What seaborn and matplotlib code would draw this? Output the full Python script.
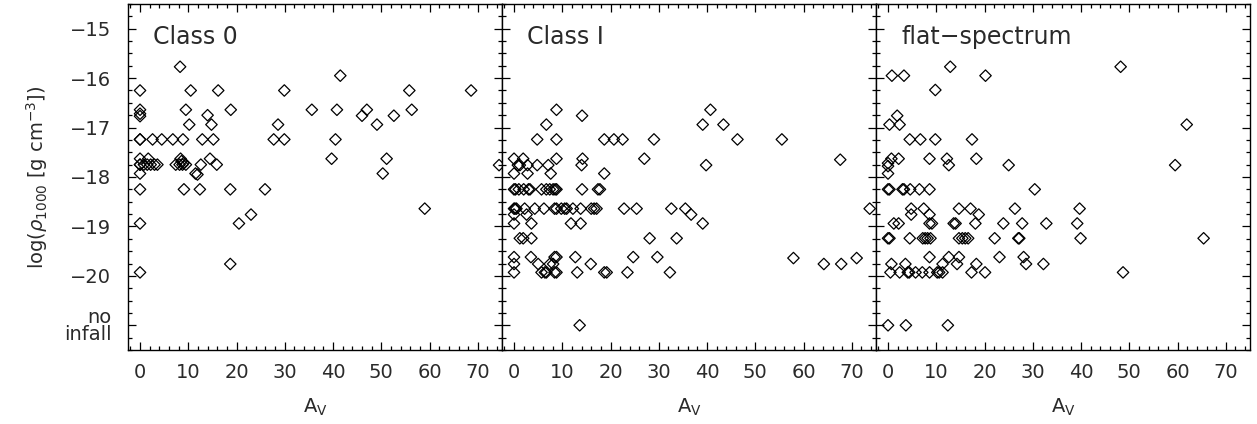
import matplotlib
matplotlib.use("Agg")
import matplotlib.pyplot as plt
from matplotlib.ticker import MultipleLocator
import pandas as pd
import seaborn as sns

# (A_V, log rho_1000) pairs; -21 stands for "no infall"
class0_points = [
    (8.3, -15.77), (41.5, -15.95),
    (0, -16.25), (10.5, -16.25), (16.2, -16.25), (29.9, -16.25), (55.8, -16.25), (68.6, -16.25),
    (0, -16.64), (0, -16.72), (0, -16.77), (9.5, -16.64), (18.8, -16.64), (35.6, -16.64),
    (40.8, -16.64), (47.0, -16.64), (56.3, -16.64),
    (14.0, -16.75), (46.0, -16.76), (52.6, -16.76),
    (10.2, -16.94), (14.8, -16.94), (28.6, -16.94), (49.1, -16.94),
    (0, -17.24), (0, -17.24), (2.6, -17.24), (4.5, -17.24), (6.8, -17.24), (8.9, -17.24),
    (12.9, -17.24), (15.2, -17.24), (27.7, -17.24), (29.9, -17.24), (40.5, -17.24),
    (0, -17.63), (1.7, -17.63), (8.4, -17.63), (14.5, -17.63), (39.7, -17.63), (51.1, -17.63),
    (0, -17.75), (0, -17.75), (0.8, -17.75), (1.5, -17.75), (2.2, -17.75), (3.0, -17.75),
    (3.6, -17.75), (7.4, -17.75), (8.2, -17.75), (8.6, -17.68), (9.0, -17.72), (8.8, -17.75),
    (9.5, -17.75), (12.6, -17.75), (15.9, -17.75), (74.4, -17.76),
    (0, -17.93), (11.5, -17.93), (11.9, -17.95), (50.3, -17.93),
    (0, -18.25), (9.1, -18.25), (12.4, -18.25), (18.7, -18.25), (25.9, -18.25),
    (59.0, -18.64), (23.0, -18.76),
    (0, -18.94), (20.5, -18.94),
    (18.7, -19.76), (0, -19.93),
]

class1_points = [
    (8.8, -16.64), (40.7, -16.64), (14.1, -16.76),
    (6.7, -16.94), (39.1, -16.94), (43.4, -16.94),
    (4.8, -17.24), (8.8, -17.24), (18.7, -17.24), (20.7, -17.24), (22.5, -17.24),
    (29.0, -17.24), (46.3, -17.24), (55.5, -17.24),
    (0, -17.63), (1.9, -17.63), (8.8, -17.63), (14.2, -17.63), (27.0, -17.63), (67.6, -17.65),
    (0.8, -17.76), (1.2, -17.76), (2.8, -17.76), (4.8, -17.76), (7.1, -17.76), (14.0, -17.76),
    (39.8, -17.76),
    (0, -17.93), (2.8, -17.93), (7.6, -17.93), (18.7, -17.93),
    (0, -18.25), (0.3, -18.25), (1.0, -18.25), (2.0, -18.25), (3.0, -18.25), (3.3, -18.25),
    (5.7, -18.25), (6.7, -18.25), (7.4, -18.25), (8.1, -18.25), (8.5, -18.25), (8.8, -18.25),
    (14.1, -18.25), (17.4, -18.25), (17.8, -18.25),
    (0, -18.64), (0.2, -18.64), (0.5, -18.64), (2.2, -18.64), (4.3, -18.64), (6.2, -18.64),
    (8.4, -18.64), (8.8, -18.64), (9.8, -18.64), (10.5, -18.64), (10.9, -18.64), (12.2, -18.64),
    (13.8, -18.64), (16.0, -18.64), (16.6, -18.64), (17.1, -18.64), (22.8, -18.64),
    (25.4, -18.64), (32.6, -18.64), (35.5, -18.64), (73.7, -18.64),
    (0, -18.76), (2.6, -18.76), (36.7, -18.76),
    (0, -18.94), (3.6, -18.94), (11.8, -18.94), (13.8, -18.94), (39.1, -18.94),
    (1.2, -19.24), (1.9, -19.24), (3.6, -19.24), (28.1, -19.24), (33.7, -19.24),
    (0, -19.62), (3.5, -19.62), (8.4, -19.62), (8.8, -19.62), (12.7, -19.62), (24.7, -19.62),
    (29.7, -19.62), (57.9, -19.64), (71.0, -19.64),
    (0, -19.76), (5.0, -19.76), (7.4, -19.76), (8.1, -19.76), (15.9, -19.76),
    (64.2, -19.76), (67.8, -19.76),
    (0, -19.93), (5.7, -19.93), (6.4, -19.93), (6.7, -19.93), (8.4, -19.93), (8.8, -19.93),
    (13.1, -19.93), (18.7, -19.93), (19.2, -19.93), (23.5, -19.93), (32.3, -19.93),
    (13.6, -21.0),
]

flat_points = [
    (12.9, -15.77), (48.2, -15.77),
    (0.8, -15.95), (3.3, -15.95), (20.2, -15.95),
    (9.8, -16.24), (1.9, -16.76),
    (0.3, -16.94), (2.4, -16.94), (61.9, -16.94),
    (4.5, -17.24), (6.7, -17.24), (9.8, -17.24), (17.4, -17.24),
    (0.7, -17.63), (2.2, -17.63), (8.6, -17.63), (12.2, -17.63), (18.3, -17.63),
    (0, -17.72), (0, -17.78), (12.6, -17.76), (25.0, -17.76), (59.5, -17.76),
    (0, -17.93),
    (0, -18.25), (0.3, -18.25), (3.0, -18.25), (3.3, -18.25), (4.6, -18.25), (6.5, -18.25),
    (8.6, -18.25), (30.4, -18.25),
    (4.8, -18.64), (7.4, -18.64), (14.7, -18.64), (17.1, -18.64), (26.3, -18.64), (39.7, -18.64),
    (4.8, -18.76), (8.6, -18.76), (18.8, -18.76),
    (1.2, -18.94), (2.2, -18.94), (8.6, -18.94), (9.1, -18.94), (13.6, -18.94), (14.0, -18.94),
    (18.1, -18.94), (23.9, -18.94), (27.8, -18.94), (32.8, -18.94), (39.2, -18.94),
    (0, -19.24), (0.3, -19.24), (4.5, -19.24), (7.2, -19.24), (7.7, -19.24), (8.2, -19.24),
    (8.8, -19.24), (14.7, -19.24), (15.4, -19.24), (16.0, -19.24), (16.6, -19.24),
    (22.1, -19.24), (27.0, -19.24), (27.2, -19.24), (39.9, -19.24), (65.4, -19.24),
    (8.6, -19.62), (12.6, -19.62), (14.7, -19.62), (23.1, -19.62), (28.1, -19.62),
    (0.7, -19.76), (3.6, -19.76), (11.3, -19.76), (14.3, -19.76), (18.3, -19.76),
    (28.6, -19.76), (32.2, -19.76),
    (0.5, -19.93), (2.4, -19.93), (4.1, -19.93), (4.4, -19.93), (5.7, -19.93), (7.1, -19.93),
    (8.6, -19.93), (10.2, -19.93), (10.6, -19.93), (11.3, -19.93), (17.3, -19.93),
    (20.1, -19.93), (48.7, -19.93),
    (0, -21.0), (3.7, -21.0), (12.4, -21.0),
]

panel_names = ["Class 0", "Class I", "flat\u2212spectrum"]
y_ticks = [-15, -16, -17, -18, -19, -20, -21]
y_tick_labels = ["\u221215", "\u221216", "\u221217", "\u221218", "\u221219", "\u221220", "no\ninfall"]
x_ticks = [0, 10, 20, 30, 40, 50, 60, 70]

sns.set_style("ticks")
plt.rcParams["font.family"] = ["DejaVu Sans"]

fig, axes = plt.subplots(1, 3, figsize=(12.57, 4.24), dpi=100, sharey=True)
fig.subplots_adjust(left=0.1018, right=0.9944, top=0.9906, bottom=0.1745, wspace=0)

for ax, pts, name in zip(axes, [class0_points, class1_points, flat_points], panel_names):
    df = pd.DataFrame(pts, columns=["av", "rho"])
    sns.scatterplot(data=df, x="av", y="rho", ax=ax, marker="D", s=34,
                    color="black", linewidth=0.9, legend=False)
    for coll in ax.collections:
        coll.set_facecolor("none")
        coll.set_edgecolor("black")
        coll.set_clip_on(False)

    ax.set_xlim(-2.5, 75)
    ax.set_ylim(-21.5, -14.5)
    ax.set_xticks(x_ticks)
    ax.set_xticklabels([str(t) for t in x_ticks])
    ax.xaxis.set_minor_locator(MultipleLocator(2))
    ax.yaxis.set_minor_locator(MultipleLocator(0.25))
    ax.tick_params(which="both", direction="in", top=True, right=True, color="black", width=0.9)
    ax.tick_params(which="major", length=5.5)
    ax.tick_params(which="minor", length=3)
    ax.tick_params(axis="x", labelsize=14, pad=9, labelcolor="#2a2a2a")
    ax.tick_params(axis="y", labelsize=14, pad=12, labelcolor="#2a2a2a")
    for sp in ax.spines.values():
        sp.set_visible(True)
        sp.set_linewidth(1.0)
        sp.set_color("black")

    ax.set_xlabel(r"A$_{\rm V}$", fontsize=14, labelpad=11, color="#2a2a2a")
    ax.set_ylabel("")
    ax.text(0.067, 0.905, name, transform=ax.transAxes, fontsize=17,
            ha="left", va="center", color="#2a2a2a")

axes[0].set_yticks(y_ticks)
axes[0].set_yticklabels(y_tick_labels, linespacing=0.85)
axes[0].set_ylabel(r"log($\rho_{1000}$ [g cm$^{-3}$])", fontsize=14, labelpad=10, color="#2a2a2a")
for ax in axes[1:]:
    ax.tick_params(axis="y", labelleft=False)

fig.savefig("out.png", dpi=100)
